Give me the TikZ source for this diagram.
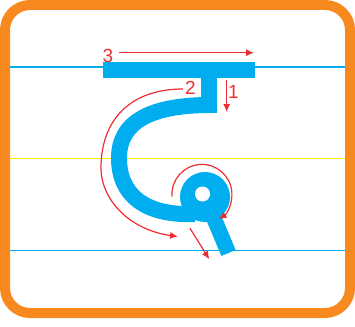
\documentclass[tikz,border=0pt]{standalone}
\usepackage{fontspec}
\setsansfont{Liberation Sans}
\usetikzlibrary{arrows.meta}

\definecolor{glyphcyan}{RGB}{0,174,239}
\definecolor{arrowred}{RGB}{237,45,48}
\definecolor{frameorange}{RGB}{247,137,31}
\definecolor{ruleyellow}{RGB}{255,236,0}

\begin{document}
\begin{tikzpicture}[
    x=1pt, y=-1pt,
    >={Latex[length=8pt, width=7pt]},
    rule/.style={line width=1.5pt, draw=glyphcyan},
    midrule/.style={line width=1.8pt, draw=ruleyellow},
    glyph/.style={line width=16pt, draw=glyphcyan},
    order/.style={->, line width=1.2pt, draw=arrowred},
    num/.style={text=arrowred, font=\sffamily\fontsize{19}{19}\selectfont, inner sep=0pt}
]
\useasboundingbox (0,0) rectangle (355,326);

% --------------------------------------------------------------------------
% Writing lines
% --------------------------------------------------------------------------
\draw[rule] (10,67) -- (345,67);
\draw[midrule] (10,158.5) -- (345,158.5);
\draw[rule] (10,250.5) -- (345,250.5);

% --------------------------------------------------------------------------
% Letter
% --------------------------------------------------------------------------
\fill[glyphcyan] (103,62.5) rectangle (255,78);
\fill[glyphcyan] (200.5,77) rectangle (216.5,112.5);
\draw[glyph] (216.5,105) .. controls (150,104) and (119,122) .. (119,158)
    .. controls (119,195) and (145,216) .. (195,214);
\draw[glyph, line width=15.5pt] (205,197) -- (228.5,253);
\fill[glyphcyan] (205,197) circle[radius=25];
\fill[white] (202.5,194) circle[radius=7.5];

% --------------------------------------------------------------------------
% Stroke order
% --------------------------------------------------------------------------
\coordinate (s1) at (226.7,80);
\coordinate (e1) at (226.7,112);
\coordinate (s2) at (183,89);
\coordinate (e2) at (178,236.5);
\coordinate (s3) at (119,52.7);
\coordinate (e3) at (254,52.7);
\coordinate (s4) at (172,196.5);
\coordinate (s5) at (190,228.3);
\coordinate (e5) at (209.3,259.3);

\draw[order] (s1) -- (e1);
\draw[order] (s2) .. controls (130,89) and (101,120) .. (101,168)
    .. controls (101,200) and (130,230) .. (e2);
\draw[order] (s3) -- (e3);
\draw[order] (s4) arc[start angle=176, end angle=416, radius=30];
\draw[order] (s5) -- (e5);

\node[num] (n1) at (233.3,91.7) {1};
\node[num] (n2) at (190.5,88.3) {2};
\node[num] (n3) at (108,56) {3};

% frame
\draw[line width=10pt, draw=frameorange, rounded corners=25pt] (5,5) rectangle (350,313);

\end{tikzpicture}
\end{document}
